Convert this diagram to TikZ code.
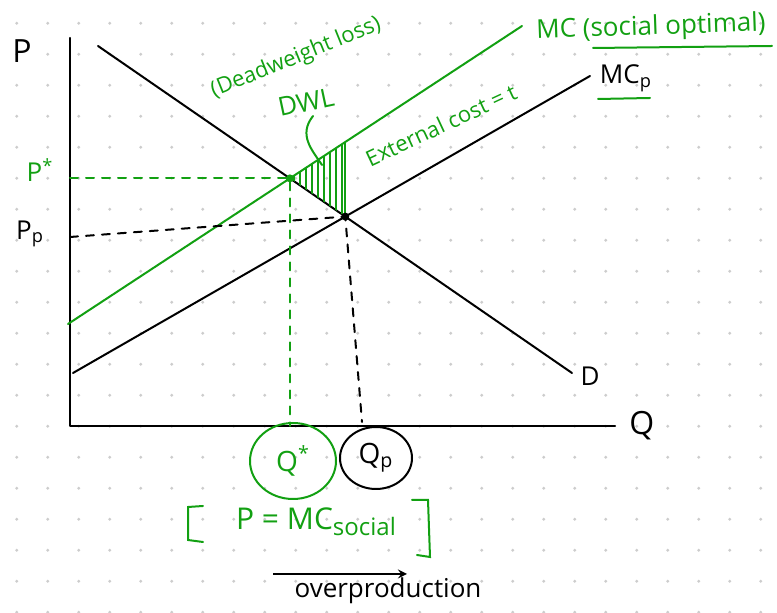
\documentclass[tikz,border=0pt]{standalone}
\usepackage{fontspec}
\setmainfont{Open Sans}
\usepackage{tikz}
\usetikzlibrary{calc,positioning,intersections,shapes.geometric,arrows}
\definecolor{penGreen}{RGB}{18,160,18}
\definecolor{dotGray}{RGB}{205,205,205}
\tikzset{
	axis/.style={line width=1.2pt, line cap=round, line join=round},
	curve/.style={line width=1pt, line cap=round},
	guide/.style={line width=1pt, dash pattern=on 4pt off 4pt, line cap=round},
	hand/.style={inner sep=1pt, font=\fontsize{11}{13}\selectfont},
	handmid/.style={inner sep=1pt, font=\fontsize{13}{15}\selectfont},
	handbig/.style={inner sep=1pt, font=\fontsize{16}{18}\selectfont},
	point/.style={circle, fill, inner sep=0pt, minimum size=4pt},
	ring/.style={ellipse, draw, line width=1pt, inner sep=0pt,
		font=\fontsize{14}{16}\selectfont}
}

\begin{document}
\begin{tikzpicture}[x=0.5pt,y=-0.5pt]
	\useasboundingbox (0,0) rectangle (777,613);
	% dotted paper
	\foreach \i in {0,...,24}
		\foreach \j in {0,...,19}
			\fill[dotGray] ({16.7+31*\i},{23.3+31*\j}) circle (0.8pt);

	% axes
	\coordinate (O) at (70,426);
	\coordinate (ytop) at (70,38);
	\coordinate (xend) at (615,426);
	\draw[axis] (ytop) -- (O) -- (xend);

	% demand, private and social marginal cost
	\coordinate (d1) at (98,46);
	\coordinate (d2) at (572,373);
	\coordinate (s1) at (73,373);
	\coordinate (s2) at (590,76);
	\coordinate (g1) at (68,324);
	\coordinate (g2) at (522,26);
	\draw[curve, name path=demand] (d1) -- (d2);
	\draw[curve, name path=mcp] (s1) -- (s2);
	\draw[curve, penGreen, name path=mcsoc] (g1) -- (g2);
	\path[name intersections={of=demand and mcp, by=ep}];
	\path[name intersections={of=demand and mcsoc, by=estar}];
	\path[name path=tline] (ep) -- ++(0,-120);
	\path[name intersections={of=tline and mcsoc, by=gt}];

	% deadweight loss
	\begin{scope}
		\clip (estar) -- (gt) -- (ep) -- cycle;
		\foreach \x in {294,300,...,348}
			\draw[penGreen, line width=1pt] (\x,130) -- (\x,230);
	\end{scope}
	\draw[penGreen, line width=1.2pt] (gt) -- (ep);

	% guides
	\coordinate (pstar) at (O |- estar);
	\coordinate (qstar) at (estar |- O);
	\coordinate (pp) at (70,237);
	\coordinate (qp) at (362,422);
	\draw[guide, penGreen] (pstar) -- (estar) -- (qstar);
	\draw[guide] (pp) -- (ep) -- (qp);
	\node[point, penGreen] (estar-dot) at (estar) {};
	\node[point] (ep-dot) at (ep) {};

	% axis labels
	\node[handbig] (plab) at (22,51) {P};
	\node[handbig, right=6pt of xend] (qlab) {Q};
	\node[handmid, penGreen] (pstarlab) at (40,170) {P\textsuperscript{*}};
	\node[handmid] (pplab) at (30,234) {P\textsubscript{p}};
	\node[handmid] (dlab) at (590,376) {D};
	\node[handmid] (mcplab) at (626,78) {MC\textsubscript{p}};
	\draw[penGreen, curve] (598,99) -- (650,98);

	% quantities
	\node[ring, penGreen, minimum width=43pt, minimum height=38pt] (qstarring) at (293,461) {Q\textsuperscript{*}};
	\node[ring, minimum width=36pt, minimum height=31pt] (qpring) at (376,458) {Q\textsubscript{p}};

	% notes
	\node[hand, penGreen, rotate=22] (dwlnote) at (296,58) {(Deadweight loss)};
	\node[handmid, penGreen, rotate=12] (dwl) at (306,102) {DWL};
	\draw[penGreen, curve] (313,116) .. controls (298,135) and (312,150) .. (322,165);
	\node[hand, penGreen, rotate=25] (extcost) at (441,125) {External cost = t};
	\node[hand, font=\fontsize{13}{15}\selectfont, penGreen, rotate=2] (mcsoclab) at (651,28) {MC (social optimal)};
	\draw[penGreen, curve] (593,48) -- (772,46);

	% social optimum condition
	\node[handmid, font=\fontsize{15}{17}\selectfont, penGreen] (cond) at (316,522) {P = MC{\fontsize{12}{14}\selectfont\raisebox{-3pt}{social}}};
	\draw[penGreen, curve] (203,506) -- (188,507) -- (188,540) -- (203,542);
	\draw[penGreen, curve] (412,500) -- (428,500) -- (430,557) -- (417,555);

	\coordinate (arrL) at (273,574);
	\coordinate (arrR) at (407,574);
	\draw[->, >=stealth, line width=1pt] (arrL) -- (arrR);
	\node[handmid] (over) at (388,591) {overproduction};
\end{tikzpicture}
\end{document}
